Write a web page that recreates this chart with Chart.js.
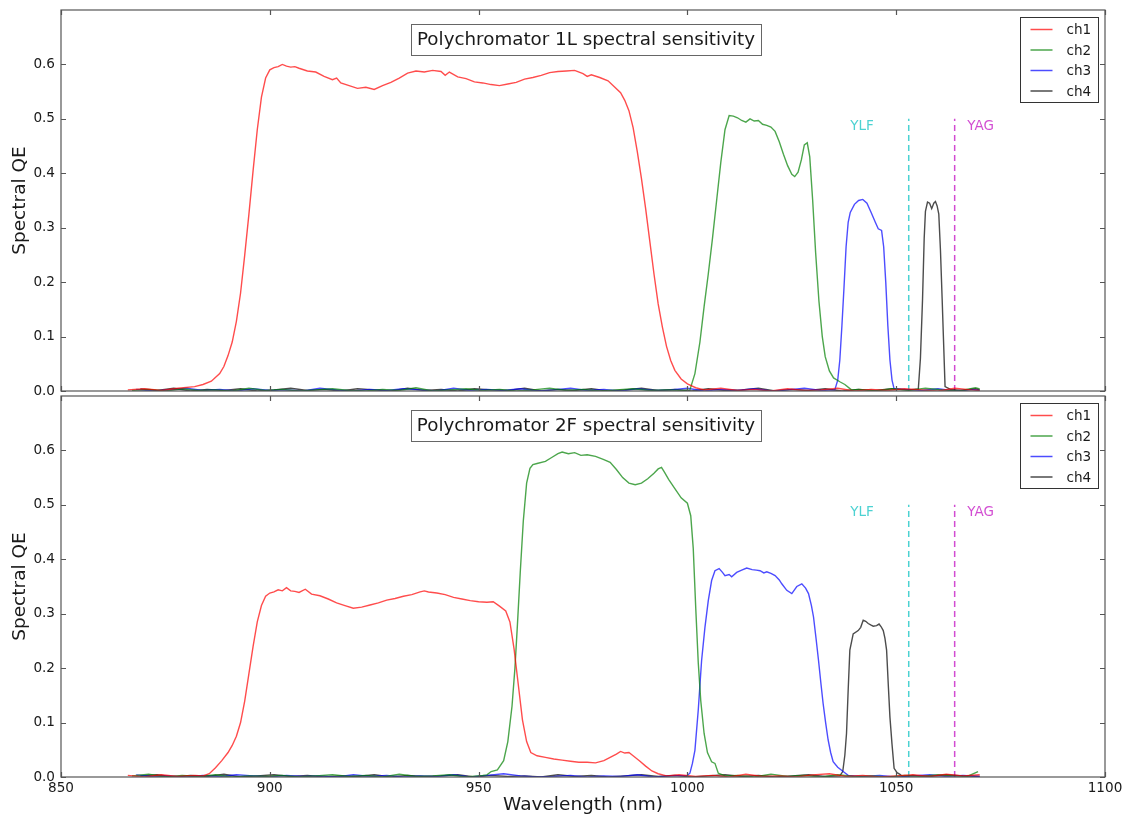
<!DOCTYPE html>
<html>
<head>
<meta charset="utf-8">
<script src="https://cdn.jsdelivr.net/npm/chart.js@4/dist/chart.umd.min.js"></script>
<style>
  html, body { margin: 0; padding: 0; background: #fff; }
  #wrap { position: relative; width: 1136px; height: 817px; }
  canvas { position: absolute; left: 0; }
  #top { top: 0; }
  #bottom { top: 390px; }
</style>
</head>
<body>
<div id="wrap">
  <canvas id="top" width="1136" height="400"></canvas>
  <canvas id="bottom" width="1136" height="427"></canvas>
</div>
<script>
// --- data: [wavelength nm, spectral QE] ---
const channelNames = ['ch1', 'ch2', 'ch3', 'ch4'];
const xTicks = [850, 900, 950, 1000, 1050, 1100];
const yTicks = [0, 0.1, 0.2, 0.3, 0.4, 0.5, 0.6];

const laserNames = ['YLF', 'YAG'];
const laserWl = [1053, 1064];
const laserTop = 0.5;
const laserTextWl = [1039, 1067];
const laserTextQE = 0.48;

// Polychromator 1L
const top1 = [[866,0.002],[870,0.004],[874,0.001],[878,0.005],[882,0.008],[884,0.012],[886,0.018],[888,0.032],[889,0.045],[890,0.065],[891,0.09],[892,0.128],[893,0.18],[894,0.25],[895,0.325],[896,0.405],[897,0.48],[898,0.54],[899,0.575],[900,0.59],[901,0.594],[902,0.596],[903,0.6],[904,0.597],[905,0.595],[906,0.596],[907,0.593],[909,0.588],[911,0.586],[913,0.578],[915,0.572],[916,0.575],[917,0.566],[919,0.561],[921,0.556],[923,0.558],[925,0.554],[927,0.561],[929,0.567],[931,0.575],[933,0.584],[935,0.588],[937,0.586],[939,0.589],[941,0.587],[942,0.58],[943,0.586],[945,0.577],[947,0.574],[949,0.568],[951,0.566],[953,0.563],[955,0.561],[957,0.564],[959,0.567],[961,0.573],[963,0.576],[965,0.58],[967,0.585],[969,0.587],[971,0.588],[973,0.589],[975,0.583],[976,0.578],[977,0.581],[979,0.576],[981,0.57],[982.5,0.559],[984,0.548],[985,0.534],[986,0.515],[987,0.484],[988,0.44],[989,0.39],[990,0.335],[991,0.275],[992,0.215],[993,0.16],[994,0.118],[995,0.082],[996,0.056],[997,0.038],[998.5,0.022],[1000,0.013],[1002,0.006],[1004,0.002],[1008,0.005],[1012,0.001],[1016,0.003],[1020,0],[1024,0.004],[1028,0.001],[1032,0.002],[1036,0.005],[1040,0],[1044,0.003],[1048,0.001],[1052,0.004],[1056,0.002],[1060,0],[1064,0.005],[1068,0.002],[1070,0.001]];
const top2 = [[867,0.001],[871,0.003],[875,0],[879,0.004],[883,0.001],[887,0.002],[891,0],[895,0.005],[899,0.001],[903,0.003],[907,0],[911,0.002],[915,0.004],[919,0.001],[923,0],[927,0.003],[931,0.001],[935,0.006],[939,0],[943,0.002],[947,0.004],[951,0.001],[955,0.003],[959,0],[963,0.002],[967,0.005],[971,0.001],[975,0.003],[979,0],[983,0.002],[987,0.004],[991,0.001],[995,0.002],[999,0.001],[1000.6,0.002],[1001.8,0.032],[1003,0.09],[1004,0.155],[1005,0.215],[1006,0.28],[1007,0.35],[1008,0.42],[1009,0.48],[1010,0.506],[1011,0.505],[1012,0.502],[1013,0.497],[1014,0.494],[1015,0.5],[1016,0.496],[1017,0.497],[1018,0.49],[1019,0.488],[1020,0.485],[1021,0.477],[1022,0.458],[1023,0.435],[1024,0.414],[1025,0.398],[1025.7,0.394],[1026.5,0.402],[1027.3,0.425],[1028,0.452],[1028.7,0.456],[1029.3,0.43],[1030,0.35],[1030.7,0.255],[1031.5,0.165],[1032.3,0.1],[1033,0.063],[1034,0.037],[1035,0.024],[1036.5,0.017],[1037.7,0.012],[1039.3,0.002],[1041,0.003],[1045,0],[1049,0.004],[1053,0.001],[1057,0.005],[1061,0.002],[1065,0],[1069,0.006],[1070,0.004]];
const top3 = [[868,0.003],[872,0],[876,0.002],[880,0.005],[884,0.001],[888,0.003],[892,0],[896,0.004],[900,0.001],[904,0.002],[908,0],[912,0.005],[916,0.002],[920,0],[924,0.003],[928,0.001],[932,0.004],[936,0.002],[940,0],[944,0.005],[948,0.001],[952,0.003],[956,0.001],[960,0.004],[964,0],[968,0.002],[972,0.005],[976,0.001],[980,0.003],[984,0],[988,0.004],[992,0.001],[996,0.002],[1000,0.005],[1004,0],[1008,0.003],[1012,0.001],[1016,0.004],[1020,0],[1024,0.002],[1028,0.005],[1032,0.001],[1035.3,0.002],[1036,0.02],[1036.5,0.057],[1037,0.12],[1037.5,0.19],[1038,0.265],[1038.5,0.31],[1039,0.328],[1040,0.343],[1041,0.35],[1042,0.352],[1043,0.345],[1044,0.328],[1045,0.31],[1045.7,0.298],[1046.5,0.295],[1047,0.265],[1047.5,0.2],[1048,0.12],[1048.5,0.057],[1049,0.02],[1049.5,0.004],[1052,0.003],[1056,0.001],[1060,0.004],[1064,0],[1068,0.003],[1070,0.001]];
const top4 = [[869,0.004],[873,0.001],[877,0.005],[881,0],[885,0.003],[889,0.001],[893,0.004],[897,0],[901,0.002],[905,0.005],[909,0.001],[913,0.003],[917,0],[921,0.004],[925,0.002],[929,0],[933,0.005],[937,0.001],[941,0.003],[945,0],[949,0.004],[953,0.002],[957,0.001],[961,0.005],[965,0],[969,0.003],[973,0.001],[977,0.004],[981,0],[985,0.002],[989,0.005],[993,0.001],[997,0.003],[1001,0],[1005,0.004],[1009,0.001],[1013,0.002],[1017,0.005],[1021,0],[1025,0.003],[1029,0.001],[1033,0.004],[1037,0],[1041,0.003],[1045,0.001],[1049,0.004],[1053,0.002],[1055.3,0.004],[1055.8,0.06],[1056.3,0.167],[1056.7,0.28],[1057,0.33],[1057.5,0.347],[1058,0.345],[1058.5,0.335],[1059,0.345],[1059.4,0.348],[1059.8,0.34],[1060.2,0.325],[1060.6,0.258],[1061,0.17],[1061.3,0.1],[1061.7,0.008],[1063,0.003],[1066,0.001],[1069,0.004],[1070,0.002]];

// Polychromator 2F
const bot1 = [[866,0.003],[870,0],[874,0.004],[878,0.001],[882,0.003],[884,0.002],[885.5,0.006],[887,0.017],[888.5,0.03],[890,0.045],[891,0.058],[892,0.075],[893,0.1],[894,0.14],[895,0.19],[896,0.24],[897,0.285],[898,0.315],[899,0.332],[900,0.338],[901,0.34],[902,0.344],[903,0.342],[904,0.348],[905,0.342],[906,0.341],[907,0.339],[908.5,0.345],[910,0.336],[912,0.333],[914,0.327],[916,0.32],[918,0.315],[920,0.31],[922,0.312],[924,0.316],[926,0.32],[928,0.325],[930,0.328],[932,0.332],[934,0.335],[936,0.34],[937,0.342],[938,0.34],[940,0.338],[942,0.335],[944,0.33],[946,0.327],[948,0.324],[950,0.322],[952,0.321],[953.5,0.322],[955,0.314],[956.5,0.305],[957.5,0.285],[958.5,0.235],[959.5,0.17],[960.5,0.105],[961.5,0.065],[962.5,0.045],[964,0.039],[966,0.036],[968,0.033],[970,0.031],[972,0.029],[974,0.027],[976,0.027],[978,0.026],[980,0.03],[981.5,0.036],[983,0.042],[984,0.047],[985,0.044],[986,0.045],[987,0.039],[988.5,0.03],[990,0.02],[991.5,0.011],[993,0.006],[995,0.002],[998,0.004],[1002,0.001],[1006,0.003],[1010,0],[1014,0.005],[1018,0.001],[1022,0.002],[1026,0],[1030,0.004],[1034,0.006],[1038,0.001],[1042,0.003],[1046,0],[1050,0.002],[1054,0.004],[1058,0.001],[1062,0.005],[1066,0.002],[1070,0.004]];
const bot2 = [[867,0.002],[871,0.005],[875,0],[879,0.003],[883,0.001],[887,0.004],[891,0],[895,0.002],[899,0.001],[903,0.003],[907,0],[911,0.002],[915,0.004],[919,0.001],[923,0.003],[927,0],[931,0.005],[935,0.001],[939,0.002],[943,0.004],[947,0],[951,0.003],[952,0.004],[953,0.01],[954.5,0.013],[956,0.03],[957,0.065],[958,0.13],[958.7,0.2],[959.3,0.28],[960,0.38],[960.7,0.47],[961.5,0.54],[962.3,0.567],[963,0.574],[964,0.576],[966,0.58],[967.5,0.587],[969,0.594],[970,0.597],[971.5,0.594],[973,0.596],[974.5,0.591],[976,0.592],[978,0.589],[980,0.583],[981.5,0.578],[983,0.565],[984.5,0.55],[986,0.54],[987.5,0.537],[989,0.54],[990.5,0.548],[992,0.558],[993,0.566],[993.8,0.569],[994.5,0.56],[995.5,0.547],[997,0.53],[998.5,0.513],[1000,0.503],[1000.8,0.48],[1001.4,0.42],[1002,0.31],[1002.6,0.21],[1003.2,0.14],[1004,0.08],[1004.8,0.045],[1005.8,0.028],[1006.6,0.025],[1007.4,0.007],[1009,0.002],[1012,0.003],[1016,0],[1020,0.005],[1024,0.001],[1028,0.003],[1032,0],[1036,0.004],[1040,0.001],[1044,0.002],[1048,0],[1052,0.003],[1056,0.001],[1060,0.004],[1064,0.002],[1067,0.001],[1069.6,0.01]];
const bot3 = [[868,0.004],[872,0.001],[876,0.002],[880,0],[884,0.003],[888,0.001],[892,0.004],[896,0.002],[900,0],[904,0.003],[908,0.001],[912,0.002],[916,0],[920,0.004],[924,0.001],[928,0.003],[932,0],[936,0.002],[940,0.001],[944,0.004],[948,0],[952,0.003],[956,0.006],[960,0.002],[964,0],[968,0.001],[972,0.003],[976,0],[980,0.002],[984,0.001],[988,0.004],[992,0],[996,0.002],[1000,0.003],[1000.6,0.007],[1001.2,0.025],[1001.8,0.049],[1002.6,0.123],[1003.4,0.214],[1004.2,0.275],[1005,0.324],[1005.8,0.361],[1006.6,0.379],[1007.6,0.383],[1008.4,0.376],[1009,0.37],[1010,0.372],[1010.6,0.368],[1011.8,0.376],[1013,0.38],[1014.2,0.384],[1015.5,0.381],[1016.5,0.38],[1017.4,0.379],[1018.3,0.375],[1019,0.377],[1020,0.374],[1021,0.37],[1022,0.362],[1022.6,0.355],[1023.8,0.343],[1025,0.337],[1026.2,0.35],[1027.4,0.355],[1028.3,0.347],[1029,0.337],[1029.7,0.315],[1030.2,0.294],[1030.8,0.255],[1031.4,0.214],[1032,0.17],[1032.5,0.135],[1033.1,0.1],[1033.7,0.068],[1034.3,0.045],[1034.9,0.028],[1036,0.018],[1037.3,0.01],[1038.5,0.003],[1042,0.001],[1046,0.003],[1050,0],[1054,0.002],[1058,0.004],[1062,0.001],[1066,0.003],[1070,0.001]];
const bot4 = [[869,0.002],[873,0.004],[877,0],[881,0.003],[885,0.001],[889,0.005],[893,0],[897,0.002],[901,0.004],[905,0.001],[909,0.003],[913,0],[917,0.002],[921,0.001],[925,0.004],[929,0],[933,0.003],[937,0.001],[941,0.002],[945,0.004],[949,0],[953,0.003],[957,0.001],[961,0.002],[965,0],[969,0.004],[973,0.001],[977,0.003],[981,0],[985,0.002],[989,0.004],[993,0.001],[997,0.003],[1001,0],[1005,0.002],[1009,0.004],[1013,0.001],[1017,0.003],[1021,0],[1025,0.002],[1029,0.004],[1033,0.001],[1036.5,0.002],[1037.2,0.01],[1037.7,0.04],[1038.1,0.08],[1038.5,0.16],[1038.9,0.233],[1039.7,0.263],[1040.9,0.269],[1041.5,0.275],[1042.1,0.288],[1042.7,0.286],[1043.3,0.282],[1044,0.279],[1044.5,0.277],[1045.3,0.278],[1045.9,0.281],[1046.4,0.276],[1046.9,0.269],[1047.3,0.255],[1047.7,0.233],[1048.1,0.17],[1048.5,0.11],[1049,0.06],[1049.5,0.016],[1050.2,0.008],[1050.9,0.005],[1051.5,0.001],[1054,0.003],[1058,0.001],[1062,0.004],[1066,0.002],[1070,0.001]];

const FONT = '"DejaVu Sans", sans-serif';
const TEXT = '#1a1a1a';
const channelColors = ['rgba(255,0,0,0.7)', 'rgba(0,128,0,0.7)', 'rgba(0,0,255,0.7)', 'rgba(0,0,0,0.7)'];
const laserColors = ['rgba(0,191,191,0.7)', 'rgba(191,0,191,0.7)'];

// frame, inward ticks, boxed title, legend and laser labels
const decor = {
  id: 'decor',
  afterDatasetsDraw(chart, args, opts) {
    const {ctx, chartArea: a, scales: {x, y}} = chart;
    ctx.save();

    ctx.strokeStyle = '#555';
    ctx.lineWidth = 1.2;
    ctx.strokeRect(a.left, a.top, a.right - a.left, a.bottom - a.top);
    ctx.beginPath();
    xTicks.forEach(v => {
      const px = Math.round(x.getPixelForValue(v)) + 0.5;
      ctx.moveTo(px, a.bottom); ctx.lineTo(px, a.bottom - 5);
      ctx.moveTo(px, a.top); ctx.lineTo(px, a.top + 5);
    });
    yTicks.forEach(v => {
      const py = Math.round(y.getPixelForValue(v)) + 0.5;
      ctx.moveTo(a.left, py); ctx.lineTo(a.left + 5, py);
      ctx.moveTo(a.right, py); ctx.lineTo(a.right - 5, py);
    });
    ctx.stroke();

    // YLF / YAG labels
    ctx.font = '13.5px ' + FONT;
    ctx.textAlign = 'left';
    ctx.textBaseline = 'alphabetic';
    laserNames.forEach((n, i) => {
      ctx.fillStyle = laserColors[i];
      ctx.fillText(n, x.getPixelForValue(laserTextWl[i]), y.getPixelForValue(laserTextQE));
    });

    // boxed title
    ctx.font = '18.3px ' + FONT;
    const tw = ctx.measureText(opts.title).width;
    const cx = (a.left + a.right) / 2 + 3;
    const cy = a.top + 29.5;
    ctx.fillStyle = '#fff';
    ctx.fillRect(cx - tw / 2 - 6, cy - 15.5, tw + 12, 31);
    ctx.strokeStyle = '#666';
    ctx.lineWidth = 1;
    ctx.strokeRect(Math.round(cx - tw / 2 - 6) + 0.5, Math.round(cy - 15.5) + 0.5, Math.round(tw + 12), 31);
    ctx.fillStyle = TEXT;
    ctx.textAlign = 'center';
    ctx.textBaseline = 'middle';
    ctx.fillText(opts.title, cx, cy + 1);

    // legend
    const lw = 78, lh = 85;
    const lx = Math.round(a.right - 7 - lw) + 0.5, ly = Math.round(a.top + 7) + 0.5;
    ctx.fillStyle = '#fff';
    ctx.fillRect(lx, ly, lw, lh);
    ctx.strokeStyle = '#333';
    ctx.strokeRect(lx, ly, lw, lh);
    ctx.font = '13.6px ' + FONT;
    ctx.textAlign = 'left';
    channelNames.forEach((n, i) => {
      const yy = ly + 12 + i * 20.5;
      ctx.strokeStyle = channelColors[i];
      ctx.lineWidth = 1.5;
      ctx.beginPath();
      ctx.moveTo(lx + 10, yy); ctx.lineTo(lx + 32, yy);
      ctx.stroke();
      ctx.fillStyle = TEXT;
      ctx.fillText(n, lx + 46, yy + 1);
    });
    ctx.restore();
  }
};

function makePanel(id, series, title, bottomAxis) {
  const datasets = series.map((pts, i) => ({
    label: channelNames[i],
    data: pts.map(p => ({x: p[0], y: p[1]})),
    borderColor: channelColors[i],
    borderWidth: 1.4,
    pointRadius: 0,
    tension: 0,
    fill: false
  }));
  laserWl.forEach((w, i) => datasets.push({
    label: laserNames[i],
    data: [{x: w, y: 0}, {x: w, y: laserTop}],
    borderColor: laserColors[i],
    borderWidth: 1.5,
    borderDash: [6, 4],
    pointRadius: 0,
    fill: false
  }));

  return new Chart(document.getElementById(id), {
    type: 'line',
    data: { datasets },
    options: {
      responsive: false,
      animation: false,
      layout: { padding: { left: 0, right: 31, top: bottomAxis ? 6 : 10, bottom: 0 } },
      plugins: {
        legend: { display: false },
        tooltip: { enabled: false },
        decor: { title }
      },
      scales: {
        x: {
          type: 'linear',
          min: 850,
          max: 1100,
          afterBuildTicks: s => { s.ticks = xTicks.map(v => ({value: v})); },
          afterFit: s => { s.height = bottomAxis ? 40 : 9; s.paddingLeft = 0; s.paddingRight = 0; },
          grid: { display: false, drawTicks: false },
          border: { display: false },
          ticks: {
            display: bottomAxis,
            padding: 3,
            maxRotation: 0,
            autoSkip: false,
            color: TEXT,
            font: { family: FONT, size: 13.6 },
            callback: v => String(v)
          },
          title: {
            display: bottomAxis,
            text: 'Wavelength (nm)',
            color: TEXT,
            font: { family: FONT, size: 18.5 },
            padding: { top: 0, bottom: 1 }
          }
        },
        y: {
          min: 0,
          max: 0.7,
          afterBuildTicks: s => { s.ticks = yTicks.map(v => ({value: v})); },
          afterFit: s => { s.width = 61; s.paddingTop = 0; s.paddingBottom = 0; },
          grid: { display: false, drawTicks: false },
          border: { display: false },
          ticks: {
            padding: 6,
            color: TEXT,
            font: { family: FONT, size: 13.6 },
            callback: v => v.toFixed(1)
          },
          title: {
            display: true,
            text: 'Spectral QE',
            color: TEXT,
            font: { family: FONT, size: 18.5 },
            padding: { top: 9, bottom: 0 }
          }
        }
      }
    },
    plugins: [decor]
  });
}

makePanel('top', [top1, top2, top3, top4], 'Polychromator 1L spectral sensitivity', false);
makePanel('bottom', [bot1, bot2, bot3, bot4], 'Polychromator 2F spectral sensitivity', true);
</script>
</body>
</html>
